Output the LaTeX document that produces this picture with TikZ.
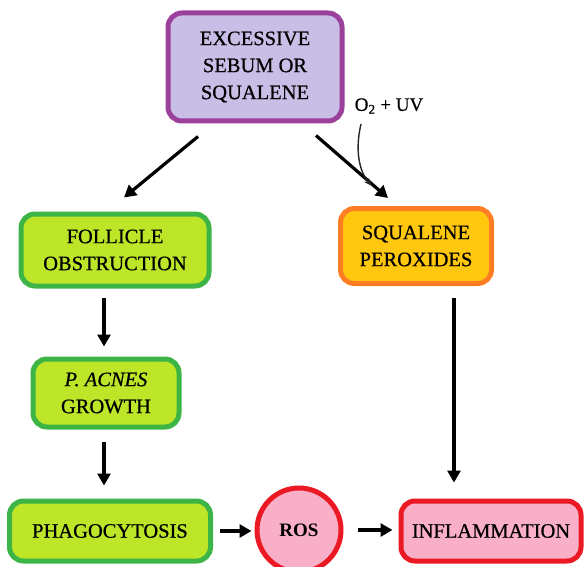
\documentclass[tikz,border=0pt]{standalone}
\usepackage{fontspec}
\setmainfont{Liberation Serif}
\newfontfamily\heavyserif[FakeBold=0.6]{Liberation Serif}
\usetikzlibrary{arrows.meta}
\definecolor{pbord}{RGB}{155,65,155}
\definecolor{pfill}{RGB}{201,190,230}
\definecolor{gbord}{RGB}{60,180,70}
\definecolor{gfill}{RGB}{190,230,40}
\definecolor{obord}{RGB}{255,125,35}
\definecolor{ofill}{RGB}{255,200,15}
\definecolor{rbord}{RGB}{235,25,35}
\definecolor{rfill}{RGB}{250,175,200}
\tikzset{
  box/.style={rounded corners=14pt, line width=5pt, align=center, inner sep=0pt,
    font=\heavyserif\fontsize{20.5}{27}\selectfont},
  purplebox/.style={box, draw=pbord, fill=pfill},
  greenbox/.style={box, draw=gbord, fill=gfill},
  orangebox/.style={box, draw=obord, fill=ofill},
  redbox/.style={box, draw=rbord, fill=rfill},
  arr/.style={line width=3.2pt, -{Triangle[length=12pt,width=13pt]}},
  thinarr/.style={line width=1.4pt, draw=black!85, -{Stealth[length=8pt,width=6pt]}}
}
\begin{document}
\begin{tikzpicture}[x=1pt,y=-1pt]
\useasboundingbox (0,0) rectangle (584,567);
\node[purplebox, minimum width=174pt, minimum height=108pt] (top) at (255,67) {EXCESSIVE\\SEBUM OR\\SQUALENE};
\node[greenbox, minimum width=188pt, minimum height=72pt] (foll) at (115,250) {FOLLICLE\\OBSTRUCTION};
\node[orangebox, minimum width=151pt, minimum height=75pt] (sq) at (416,246) {SQUALENE\\PEROXIDES};
\node[greenbox, minimum width=146pt, minimum height=68pt] (pac) at (106,393) {\textit{P. ACNES}\\GROWTH};
\node[greenbox, minimum width=201pt, minimum height=60pt] (phago) at (110,531) {PHAGOCYTOSIS};
\node[circle, line width=5pt, draw=rbord, fill=rfill, minimum size=84pt, inner sep=0pt,
  font=\fontsize{19}{22}\selectfont\bfseries] (ros) at (299,530) {ROS};
\node[redbox, minimum width=180pt, minimum height=60pt] (infl) at (491,531) {INFLAMMATION};
\node[font=\heavyserif\fontsize{19}{22}\selectfont, inner sep=0pt] (o2) at (389,106) {O\textsubscript{2} + UV};

\draw[arr] ([shift={(-57,13)}]top.south) -- ([shift={(9,-14)}]foll.north);
\draw[arr] ([shift={(61,12)}]top.south) -- ([shift={(-28,-8)}]sq.north);
\draw[thinarr] ([shift={(-28,10)}]o2.south) .. controls ([shift={(-35,40)}]o2.south) and ([shift={(-28,60)}]o2.south) .. ([shift={(-17,72)}]o2.south);
\draw[arr] ([shift={(-11,9)}]foll.south) -- ([shift={(-2,-10)}]pac.north);
\draw[arr] ([shift={(-2,12)}]pac.south) -- ([shift={(-6,-13)}]phago.north);
\draw[arr] ([shift={(38,12)}]sq.south) -- ([shift={(-37,-16)}]infl.north);
\draw[arr, shorten <=7pt, shorten >=3pt] (phago.east) -- (ros.west |- phago.east);
\draw[arr, shorten <=14pt, shorten >=6pt] (ros.east) -- (infl.west |- ros.east);
\end{tikzpicture}
\end{document}
